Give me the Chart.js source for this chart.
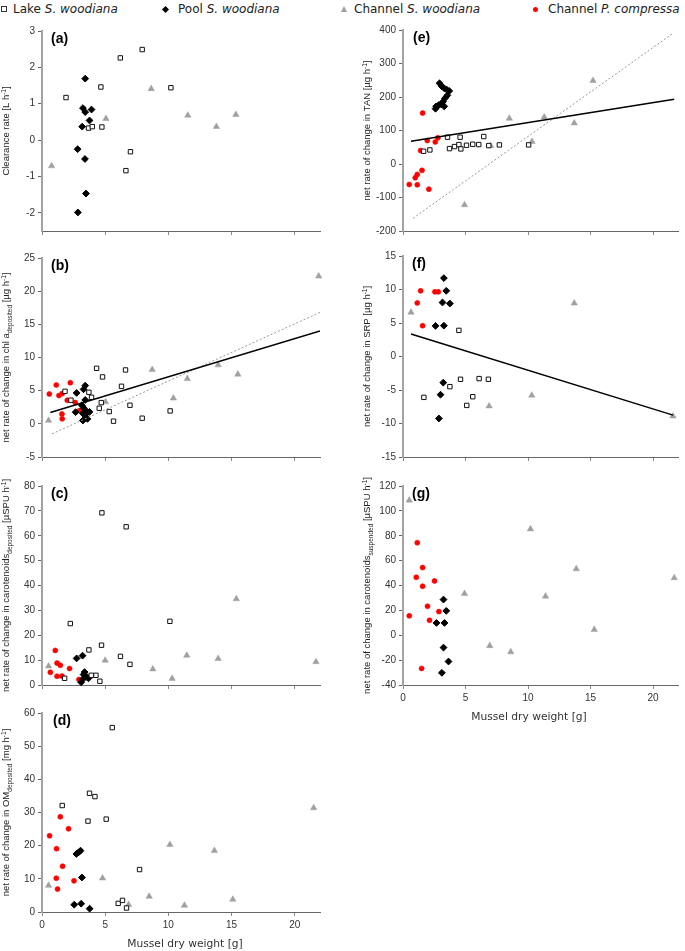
<!DOCTYPE html>
<html>
<head>
<meta charset="utf-8">
<script src="https://cdn.jsdelivr.net/npm/chart.js@4.4.1/dist/chart.umd.min.js"></script>
<style>
html,body{margin:0;padding:0;background:#fff;}
body{width:685px;height:951px;position:relative;overflow:hidden;font-family:"DejaVu Sans",sans-serif;}
canvas{position:absolute;}
#legend{position:absolute;left:0;top:0;width:685px;height:20px;font-size:12px;color:#222;}
.li{position:absolute;top:1.5px;line-height:14px;white-space:nowrap;}
.mk{position:absolute;box-sizing:content-box;}
.sq{width:4px;height:4px;border:1px solid #333;background:#fff;}
.dm{width:5px;height:5px;background:#000;transform:rotate(45deg);}
.tr{width:0;height:0;border-left:3.5px solid transparent;border-right:3.5px solid transparent;border-bottom:6px solid #a0a0a0;}
.ci{width:5px;height:5px;border-radius:50%;background:#f00;}
</style>
</head>
<body>
<div id="legend">
  <span class="mk sq" style="left:1px;top:6px"></span><span class="li" style="left:13px">Lake <i>S. woodiana</i></span>
  <span class="mk dm" style="left:162.5px;top:6.5px"></span><span class="li" style="left:178px">Pool <i>S. woodiana</i></span>
  <span class="mk tr" style="left:340.5px;top:5.5px"></span><span class="li" style="left:354px">Channel <i>S. woodiana</i></span>
  <span class="mk ci" style="left:532.5px;top:6.5px"></span><span class="li" style="left:548px">Channel <i>P. compressa</i></span>
</div>
<script>
// x ticks shared by all panels (mussel dry weight, g)
var xTicks = [0, 5, 10, 15, 20];

// (a) clearance rate
var yTicksA = [-2, -1, 0, 1, 2, 3];
var lakeA = [[1.9,1.17],[4.66,1.46],[6.2,2.26],[7.93,2.49],[10.2,1.44],[3.68,0.33],[3.98,0.37],[4.74,0.36],[7.0,-0.32],[6.64,-0.84]];
var poolA = [[3.42,1.69],[3.24,0.88],[3.42,0.77],[3.92,0.84],[3.76,0.54],[3.18,0.37],[2.82,-0.25],[3.4,-0.52],[3.48,-1.47],[2.84,-1.99]];
var chanA = [[0.76,-0.71],[5.06,0.59],[8.64,1.41],[11.54,0.68],[13.8,0.37],[15.34,0.70]];

// (b) chl a deposited
var yTicksB = [-5, 0, 5, 10, 15, 20, 25];
var lakeB = [[1.82,4.9],[2.29,3.56],[4.32,8.37],[4.79,7.07],[3.71,4.76],[3.92,4.0],[4.69,3.2],[4.53,2.35],[5.32,1.85],[5.66,0.4],[6.29,5.66],[6.61,8.12],[6.96,2.8],[7.93,0.85],[10.14,1.95]];
var poolB = [[2.74,4.66],[3.42,5.76],[3.29,5.2],[3.42,3.6],[3.16,2.8],[3.32,2.35],[2.66,1.76],[3.24,1.55],[3.56,1.8],[3.76,1.8],[3.42,1.35],[3.24,0.5],[3.6,0.75]];
var chanB = [[0.52,0.5],[5.03,3.3],[8.72,8.17],[10.4,3.86],[11.5,6.8],[13.94,8.87],[15.5,7.47],[21.9,22.26]];
var compB = [[0.58,4.5],[1.13,5.86],[1.34,4.26],[1.6,4.56],[2.24,6.2],[2.0,3.56],[1.58,1.5],[1.6,0.75],[2.63,3.2],[2.97,2.0]];
var fitB = [[0.66,1.7],[22,14]];
var oneB = [[0.8,-1.5],[22,16.8]];

// (c) carotenoids deposited
var yTicksC = [0, 10, 20, 30, 40, 50, 60, 70, 80];
var lakeC = [[4.74,69.2],[6.66,63.6],[2.24,24.7],[10.12,25.6],[4.71,16.0],[3.71,14.1],[6.21,11.5],[6.96,8.3],[1.79,2.7],[3.9,3.9],[4.27,3.9],[4.58,1.5]];
var poolC = [[2.74,10.7],[3.21,11.8],[3.37,5.2],[3.29,4.2],[3.56,3.2],[3.1,1.1],[3.68,2.7],[3.21,2.2]];
var chanC = [[0.52,7.6],[5.0,9.9],[8.77,6.4],[10.3,2.6],[11.46,11.9],[13.94,10.6],[15.38,34.6],[21.68,9.3]];
var compC = [[1.05,13.9],[0.66,5.1],[1.19,8.8],[1.45,7.9],[1.19,3.5],[1.58,3.6],[2.18,6.6],[2.92,2.2]];

// (d) OM deposited
var yTicksD = [0, 10, 20, 30, 40, 50, 60];
var lakeD = [[5.56,55.6],[3.76,35.8],[4.19,34.8],[1.6,32.1],[3.64,27.4],[5.08,28.0],[7.72,12.8],[6.03,2.6],[6.37,3.5],[6.69,1.2]];
var poolD = [[2.72,17.5],[2.9,18.0],[3.05,18.5],[3.16,10.4],[2.55,2.2],[3.1,2.5],[3.77,1.0]];
var chanD = [[0.52,8.0],[4.79,10.2],[6.85,2.2],[8.48,4.7],[10.12,20.3],[11.27,2.0],[13.64,18.5],[15.1,3.8],[21.5,31.4]];
var compD = [[0.6,23],[1.45,28.7],[2.1,25.1],[1.15,19.1],[1.63,13.8],[1.13,10.2],[1.23,6.9],[2.53,9.4]];

// (e) TAN
var yTicksE = [-200, -100, 0, 100, 200, 300, 400];
var lakeE = [[1.65,38],[2.15,42],[3.56,80],[3.72,46],[4.12,52],[4.47,58],[4.57,80],[4.63,45],[5.08,56],[5.58,59],[6.06,58],[6.46,82],[6.86,55],[7.71,57],[10.05,57]];
var poolE = [[2.92,241],[3.1,232],[3.3,226],[3.5,222],[3.7,218],[3.55,205],[3.35,196],[3.2,186],[3.05,178],[2.85,176],[2.65,172],[2.6,165],[3.3,172]];
var chanE = [[7.02,54],[8.51,136],[4.92,-122],[10.32,67],[11.3,140],[13.7,122],[15.2,249]];
var compE = [[1.57,152],[1.94,70],[2.79,78],[2.58,66],[1.41,40],[1.52,-19],[1.14,-31],[0.98,-41],[0.5,-61],[1.14,-62],[2.07,-75]];
var fitE = [[0.64,68],[21.7,193]];
var oneE = [[0.8,-162],[21.6,390]];

// (f) SRP
var yTicksF = [-15, -10, -5, 0, 5, 10, 15];
var lakeF = [[4.47,3.9],[1.67,-6.1],[3.75,-4.5],[4.6,-3.4],[6.09,-3.3],[6.83,-3.4],[5.58,-6.0],[5.1,-7.3]];
var poolF = [[3.27,11.7],[3.46,9.8],[3.16,8.06],[3.75,7.9],[2.6,4.57],[3.27,4.6],[3.22,-3.9],[3.0,-5.7],[2.87,-9.25]];
var chanF = [[0.64,6.6],[6.89,-7.4],[10.3,-5.8],[13.7,7.95],[21.6,-8.9]];
var compF = [[1.41,9.8],[1.14,8.0],[1.57,4.6],[2.55,9.65],[2.82,9.65]];
var fitF = [[0.64,3.37],[21.6,-8.75]];

// (g) carotenoids suspended
var yTicksG = [-40, -20, 0, 20, 40, 60, 80, 100, 120];
var poolG = [[3.24,28.7],[3.46,19.6],[2.68,9.9],[3.32,9.9],[3.24,-9.9],[3.64,-21.1],[3.11,-30.2]];
var chanG = [[0.5,108.5],[4.92,33.5],[10.2,85.4],[11.4,31.3],[13.86,53.3],[21.7,46.1],[15.3,4.6],[6.94,-8.5],[8.62,-13.4]];
var compG = [[1.14,74.4],[1.57,54.4],[1.06,46.6],[1.57,39.4],[2.52,43.7],[1.96,23.3],[0.5,15.6],[2.87,19.0],[2.12,12.0],[1.49,-26.7]];

var SUB = -1, SUP = 1;
function unitTitle(main, sub, unit) {
  var t = [[main, 0]];
  if (sub) t.push([sub, SUB]);
  t.push([' [' + unit + ' h', 0], ['-1', SUP], [']', 0]);
  return t;
}

var LEFT = { left: 0, width: 335, yw: 42, padR: 15 };
var RIGHT = { left: 343, width: 342, yw: 60, padR: 7 };
var PAD_T = 20;

var panels = [
  { col: LEFT, top: 31, bottom: 231, ymin: -2.5, ymax: 3, yTicks: yTicksA, label: '(a)', dx: 9,
    title: [['Clearance rate [L h', 0], ['-1', SUP], [']', 0]], lake: lakeA, pool: poolA, chan: chanA },
  { col: LEFT, top: 258, bottom: 457, ymin: -5, ymax: 25, yTicks: yTicksB, label: '(b)', dx: 9,
    title: unitTitle('net rate of change in chl a', 'deposited', 'µg'), lake: lakeB, pool: poolB, chan: chanB, comp: compB, fit: fitB, one: oneB },
  { col: LEFT, top: 486, bottom: 685, ymin: 0, ymax: 80, yTicks: yTicksC, label: '(c)', dx: 9,
    title: unitTitle('net rate of change in carotenoids', 'deposited', 'µSPU'), lake: lakeC, pool: poolC, chan: chanC, comp: compC },
  { col: LEFT, top: 713, bottom: 912, ymin: 0, ymax: 60, yTicks: yTicksD, label: '(d)', dx: 11,
    title: unitTitle('net rate of change in OM', 'deposited', 'mg'), lake: lakeD, pool: poolD, chan: chanD, comp: compD,
    xLabels: true, xTitleDx: 143 },
  { col: RIGHT, top: 30, bottom: 231, ymin: -200, ymax: 400, yTicks: yTicksE, label: '(e)', dx: 10,
    title: unitTitle('net rate of change in TAN', '', 'µg'), lake: lakeE, pool: poolE, chan: chanE, comp: compE, fit: fitE, one: oneE },
  { col: RIGHT, top: 256, bottom: 457, ymin: -15, ymax: 15, yTicks: yTicksF, label: '(f)', dx: 9,
    title: unitTitle('net rate of change in SRP', '', 'µg'), lake: lakeF, pool: poolF, chan: chanF, comp: compF, fit: fitF },
  { col: RIGHT, top: 486, bottom: 685, ymin: -40, ymax: 120, yTicks: yTicksG, label: '(g)', dx: 9,
    title: unitTitle('net rate of change in carotenoids', 'suspended', 'µSPU'), pool: poolG, chan: chanG, comp: compG,
    xLabels: true, xTitleDx: 126 }
];

var FONT = '"Liberation Sans", Arial, sans-serif';
var STYLE = {
  lake: { pointStyle: 'rect', pointRadius: 3.1, backgroundColor: '#fff', borderColor: '#111', borderWidth: 1 },
  pool: { pointStyle: 'rectRot', pointRadius: 3.4, backgroundColor: '#000', borderColor: '#000', borderWidth: 1 },
  chan: { pointStyle: 'triangle', pointRadius: 3.7, backgroundColor: '#a0a0a0', borderColor: '#a0a0a0', borderWidth: 0.5 },
  comp: { pointStyle: 'circle', pointRadius: 2.5, backgroundColor: '#ff0000', borderColor: '#ff0000', borderWidth: 0.6 }
};

function pts(arr) { return arr.map(function(p) { return { x: p[0], y: p[1] }; }); }

function textPlugin(p) {
  return {
    id: 'panelText',
    afterDraw: function(chart) {
      var ctx = chart.ctx, a = chart.chartArea;
      ctx.save();
      ctx.fillStyle = '#000';
      ctx.font = 'bold 14px ' + FONT;
      ctx.textAlign = 'left';
      ctx.textBaseline = 'top';
      ctx.fillText(p.label, a.left + p.dx, a.top + 1);

      // rotated y title with sub/superscripts
      var fontOf = function(s) { return (s ? 6.5 : 9.5) + 'px ' + FONT; };
      var total = 0;
      p.title.forEach(function(seg) { ctx.font = fontOf(seg[1]); total += ctx.measureText(seg[0]).width; });
      ctx.translate(a.left - 36, (a.top + a.bottom) / 2);
      ctx.rotate(-Math.PI / 2);
      ctx.textBaseline = 'alphabetic';
      ctx.fillStyle = '#222';
      var x = -total / 2;
      p.title.forEach(function(seg) {
        ctx.font = fontOf(seg[1]);
        var dy = seg[1] === SUP ? -3.6 : seg[1] === SUB ? 2.2 : 0;
        ctx.fillText(seg[0], x, 3.3 + dy);
        x += ctx.measureText(seg[0]).width;
      });
      ctx.restore();

      if (p.xLabels) {
        ctx.save();
        ctx.font = '10.7px "DejaVu Sans", sans-serif';
        ctx.fillStyle = '#333';
        ctx.textAlign = 'center';
        ctx.textBaseline = 'middle';
        ctx.fillText('Mussel dry weight [g]', a.left + p.xTitleDx, a.bottom + 32.6);
        ctx.restore();
      }
    }
  };
}

function makePanel(p) {
  var col = p.col;
  var xh = p.xLabels ? 45 : 20;
  var top = p.top - PAD_T;
  var h = p.bottom - p.top + PAD_T + xh;
  var cv = document.createElement('canvas');
  cv.width = col.width; cv.height = h;
  cv.style.left = col.left + 'px'; cv.style.top = top + 'px';
  cv.style.width = col.width + 'px'; cv.style.height = h + 'px';
  document.body.appendChild(cv);

  var ds = [];
  if (p.fit) ds.push({ data: pts(p.fit), showLine: true, pointRadius: 0, borderColor: '#000', borderWidth: 1.5, fill: false });
  if (p.one) ds.push({ data: pts(p.one), showLine: true, pointRadius: 0, borderColor: '#999', borderWidth: 1, borderDash: [2, 2], fill: false });
  ['lake', 'pool', 'chan', 'comp'].forEach(function(k) {
    if (!p[k]) return;
    ds.push(Object.assign({ data: pts(p[k]), clip: false }, STYLE[k]));
  });

  new Chart(cv, {
    type: 'scatter',
    data: { datasets: ds },
    options: {
      responsive: false,
      animation: false,
      events: [],
      layout: { padding: { top: PAD_T, right: col.padR, left: 0, bottom: 0 } },
      plugins: { legend: { display: false }, tooltip: { enabled: false } },
      scales: {
        x: {
          type: 'linear', min: 0, max: 22,
          afterBuildTicks: function(s) { s.ticks = xTicks.map(function(v) { return { value: v }; }); },
          afterFit: function(s) { s.height = xh; },
          border: { display: true, color: '#666', width: 1 },
          grid: { display: true, drawOnChartArea: false, drawTicks: true, tickLength: 4, color: '#888' },
          ticks: { display: !!p.xLabels, padding: 3, color: '#333', maxRotation: 0, font: { family: FONT, size: 10 },
                   callback: function(v) { return String(v); } }
        },
        y: {
          type: 'linear', min: p.ymin, max: p.ymax,
          afterBuildTicks: function(s) { s.ticks = p.yTicks.map(function(v) { return { value: v }; }); },
          afterFit: function(s) { s.width = col.yw; },
          border: { display: true, color: '#a3a3a3', width: 2 },
          grid: { display: true, drawOnChartArea: false, drawTicks: true, tickLength: 4, color: '#666' },
          ticks: { padding: 3, color: '#333', font: { family: FONT, size: 10 },
                   callback: function(v) { return String(v); } }
        }
      }
    },
    plugins: [textPlugin(p)]
  });
}

panels.forEach(makePanel);
</script>
</body>
</html>
